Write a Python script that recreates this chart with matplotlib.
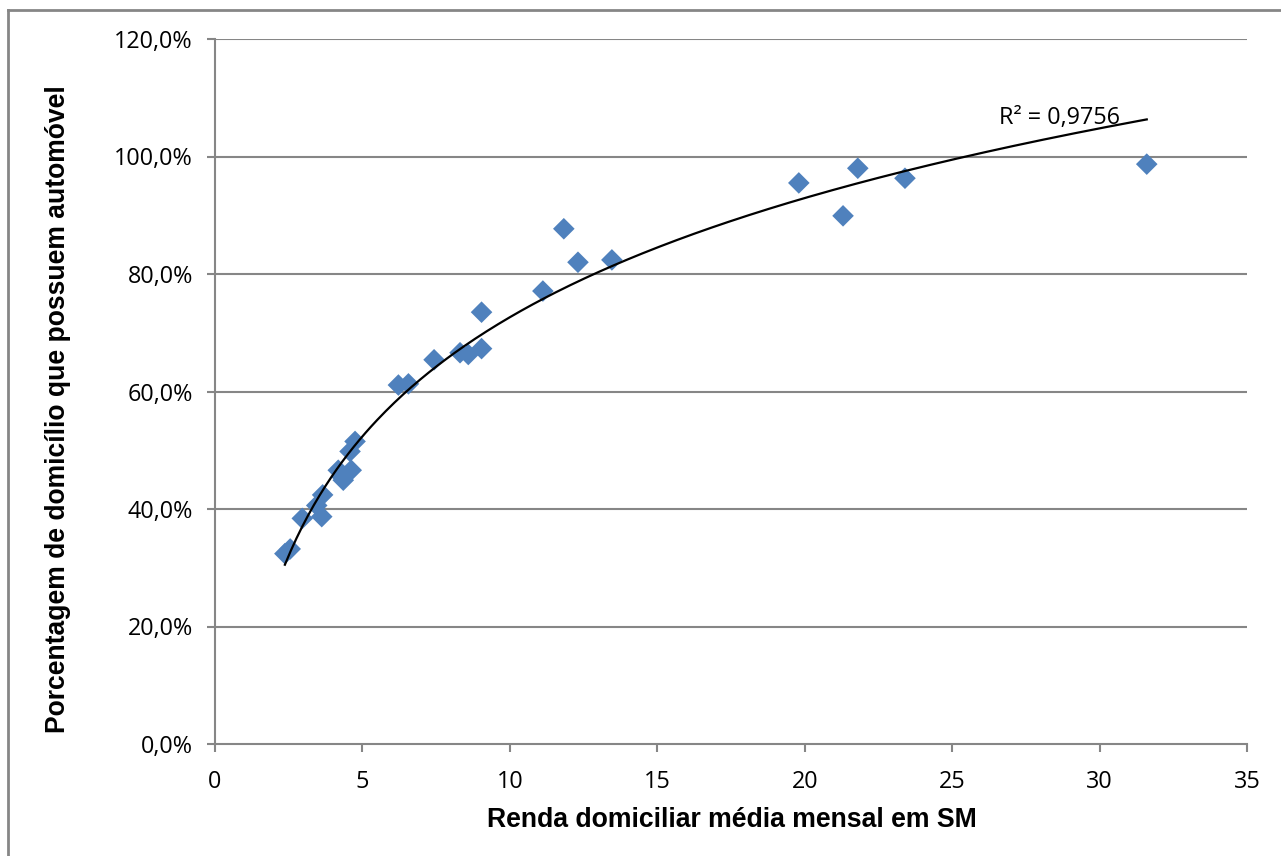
import numpy as np
import matplotlib
matplotlib.use("Agg")
import matplotlib.pyplot as plt
from matplotlib.lines import Line2D
from matplotlib.ticker import FuncFormatter

# Renda domiciliar média mensal (SM) and % de domicílios com automóvel
renda = [2.37, 2.55, 2.96, 3.45, 3.62, 3.65, 4.18, 4.30, 4.35, 4.62, 4.58, 4.75,
         6.22, 6.56, 7.43, 8.31, 8.59, 9.04, 9.04, 11.12, 11.83, 12.31, 13.46,
         19.8, 21.3, 21.8, 23.4, 31.6]
automovel = [32.4, 33.2, 38.4, 40.6, 38.7, 42.4, 46.6, 45.5, 44.9, 46.6, 49.8, 51.5,
             61.1, 61.3, 65.4, 66.6, 66.3, 67.3, 73.5, 77.1, 87.7, 82.0, 82.4,
             95.5, 89.9, 98.0, 96.3, 98.7]
r2_label = "R² = 0,9756"
x_ticks = [0, 5, 10, 15, 20, 25, 30, 35]
y_ticks = [0, 20, 40, 60, 80, 100, 120]

W, H = 1281, 856
fig = plt.figure(figsize=(W / 100, H / 100), dpi=100)
fig.patch.set_facecolor("white")

ax = fig.add_axes([215 / W, 1 - 744 / H, (1247 - 215) / W, (744 - 39) / H])

grid_col = "#868686"
for v in y_ticks[1:]:
    ax.axhline(v, color=grid_col, lw=1.5, zorder=1)

ax.scatter(renda, automovel, marker="D", s=11 ** 2, color="#4F81BD",
           edgecolors="none", zorder=3)

# logarithmic trendline fitted to the data
xr = np.array(renda)
yr = np.array(automovel)
a, b = np.polyfit(np.log(xr), yr, 1)
xs = np.linspace(xr.min(), xr.max(), 300)
ax.plot(xs, a * np.log(xs) + b, color="black", lw=1.6, zorder=4)

ax.text(26.6, 106.6, r2_label, fontsize=16.8, family="Open Sans",
        ha="left", va="center", zorder=5)

ax.set_xlim(0, 35)
ax.set_ylim(0, 120)
ax.set_xticks(x_ticks)
ax.set_yticks(y_ticks)
ax.yaxis.set_major_formatter(FuncFormatter(lambda v, p: f"{v:.1f}%".replace(".", ",")))
ax.xaxis.set_major_formatter(FuncFormatter(lambda v, p: f"{int(v)}"))

for s in ["top", "right"]:
    ax.spines[s].set_visible(False)
for s in ["left", "bottom"]:
    ax.spines[s].set_color(grid_col)
    ax.spines[s].set_linewidth(1.5)

ax.tick_params(axis="both", direction="out", length=6, width=1.5, color=grid_col,
               labelsize=16.8, labelcolor="black")
ax.tick_params(axis="y", pad=10)
ax.tick_params(axis="x", pad=12.5)
for lab in ax.get_xticklabels() + ax.get_yticklabels():
    lab.set_family("Open Sans")

fig.text(732 / W, 1 - 827 / H, "Renda domiciliar média mensal em SM",
         ha="center", va="baseline", fontsize=19.2, fontweight="bold",
         family="Liberation Sans")
fig.text(58 / W, 1 - 409 / H, "Porcentagem de domicílio que possuem automóvel",
         ha="center", va="center", rotation=90, fontsize=19.1, fontweight="bold",
         family="Liberation Sans")

# chart area border (partially outside the image)
fig.add_artist(Line2D([8 / W, 8 / W], [0, 1 - 10 / H], transform=fig.transFigure,
                      color=grid_col, lw=2))
fig.add_artist(Line2D([8 / W, 1], [1 - 10 / H, 1 - 10 / H], transform=fig.transFigure,
                      color=grid_col, lw=2))

fig.savefig("out.png", dpi=100, facecolor="white")
